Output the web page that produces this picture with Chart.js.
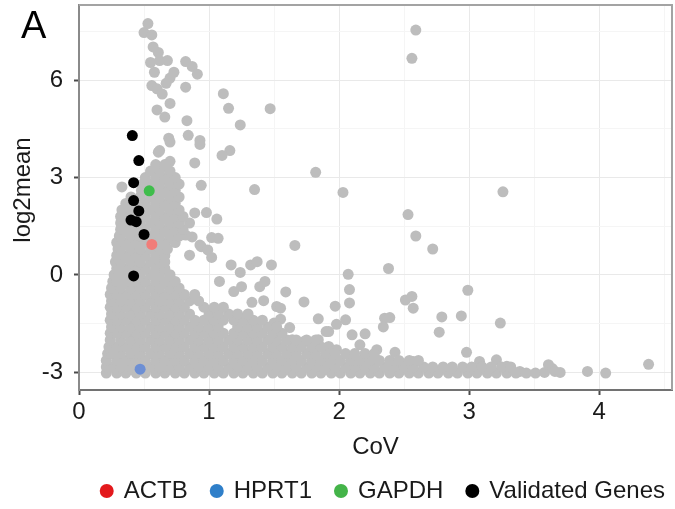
<!DOCTYPE html>
<html>
<head>
<meta charset="utf-8">
<script src="https://cdn.jsdelivr.net/npm/chart.js@4.4.1/dist/chart.umd.min.js"></script>
<style>
  html, body { margin: 0; padding: 0; background: #fff; }
</style>
</head>
<body>
<canvas id="covChart" width="675" height="509"></canvas>
<script>
  /* axis ticks */
  var covMajor = [0, 1, 2, 3, 4];
  var covMinor = [0.5, 1.5, 2.5, 3.5, 4.5];
  var meanMajor = [-3, 0, 3, 6];
  var meanMinor = [-1.5, 1.5, 4.5, 7.5];

  /* reference genes + validated set, [CoV, log2mean] */
  var actb = [[0.56, 0.94]];
  var hprt1 = [[0.47, -2.90]];
  var gapdh = [[0.54, 2.59]];
  var validated = [[0.41, 4.29], [0.46, 3.52], [0.42, 2.84], [0.42, 2.29], [0.46, 1.97],
    [0.40, 1.69], [0.44, 1.64], [0.50, 1.25], [0.42, -0.03]];

  var legendLabels = ['ACTB', 'HPRT1', 'GAPDH', 'Validated Genes'];
  var legendColors = ['#e3191c', '#2f7fc9', '#44b449', '#000000'];

  /* dense bulk of genes, one row per log2mean level: [log2mean, [CoV...]] */
  var cloudRows = [
    [-3.02, [0.21,0.29,0.36,0.44,0.51,0.59,0.66,0.74,0.81,0.89,0.96,1.04,1.11,1.19,1.26,1.34,1.41,1.49,1.56,1.64,1.71,1.79,1.86,1.94,2.01,2.09,2.16,2.24,2.31,2.39,2.46,2.54,2.61,2.69,2.76,2.84,2.91,2.99,3.06,3.14,3.21,3.29,3.36,3.44]],
    [-2.83, [0.21,0.25,0.32,0.40,0.47,0.55,0.62,0.70,0.77,0.85,0.92,1.00,1.07,1.15,1.22,1.30,1.37,1.45,1.52,1.60,1.67,1.75,1.82,1.90,1.97,2.05,2.12,2.20,2.27,2.35,2.42,2.50,2.57,2.65,2.72,2.80,2.87,2.95,3.02,3.10,3.17,3.25,3.32]],
    [-2.63, [0.21,0.29,0.36,0.44,0.51,0.59,0.66,0.74,0.81,0.89,0.96,1.04,1.11,1.19,1.26,1.34,1.41,1.49,1.56,1.64,1.71,1.79,1.86,1.94,2.01,2.09,2.16,2.24,2.31,2.39,2.46,2.54,2.61]],
    [-2.42, [0.22,0.25,0.32,0.40,0.47,0.55,0.62,0.70,0.77,0.85,0.92,1.00,1.07,1.15,1.22,1.30,1.37,1.45,1.52,1.60,1.67,1.75,1.82,1.90,1.97,2.05,2.12,2.20,2.27]],
    [-2.21, [0.23,0.29,0.36,0.44,0.51,0.59,0.66,0.74,0.81,0.89,0.96,1.04,1.11,1.19,1.26,1.34,1.41,1.49,1.56,1.64,1.71,1.79,1.86]],
    [-2.00, [0.24,0.32,0.40,0.47,0.55,0.62,0.70,0.77,0.85,0.92,1.00,1.07,1.15,1.22,1.30,1.37,1.45,1.52,1.60,1.67,1.75,1.82]],
    [-1.79, [0.24,0.29,0.36,0.44,0.51,0.59,0.66,0.74,0.81,0.89,0.96,1.04,1.11,1.19,1.26,1.34,1.41,1.49,1.56]],
    [-1.60, [0.25,0.32,0.40,0.47,0.55,0.62,0.70,0.77,0.85,0.92,1.00,1.07,1.22,1.30,1.37,1.45,1.52]],
    [-1.39, [0.24,0.29,0.36,0.44,0.51,0.59,0.66,0.74,0.81,0.89,0.96,1.04,1.11,1.19,1.26,1.34,1.41]],
    [-1.20, [0.25,0.32,0.40,0.47,0.55,0.62,0.70,0.77,0.85,1.00,1.07,1.15,1.22,1.30]],
    [-0.99, [0.24,0.29,0.36,0.44,0.51,0.59,0.66,0.74,0.81,0.96,1.04,1.11]],
    [-0.80, [0.25,0.32,0.40,0.47,0.55,0.62,0.70,0.77,0.85,0.92]],
    [-0.60, [0.24,0.29,0.36,0.44,0.51,0.59,0.66,0.74,0.81,0.89]],
    [-0.40, [0.25,0.32,0.40,0.47,0.55,0.62,0.70,0.77]],
    [-0.20, [0.26,0.29,0.36,0.44,0.51,0.59,0.66,0.74]],
    [0.01, [0.27,0.32,0.40,0.47,0.55,0.62,0.70]],
    [0.20, [0.29,0.36,0.44,0.51,0.59,0.66]],
    [0.40, [0.28,0.32,0.40,0.47,0.55,0.62,0.66]],
    [0.60, [0.29,0.36,0.44,0.51,0.59,0.66]],
    [0.80, [0.30,0.32,0.40,0.47,0.55,0.62,0.68]],
    [1.00, [0.29,0.36,0.44,0.51,0.59,0.66,0.74]],
    [1.20, [0.31,0.32,0.40,0.47,0.55,0.62,0.70,0.77]],
    [1.40, [0.32,0.36,0.44,0.51,0.59,0.66,0.74,0.80]],
    [1.60, [0.32,0.40,0.47,0.55,0.62,0.70,0.77,0.85]],
    [1.80, [0.32,0.36,0.44,0.51,0.59,0.66,0.74,0.80]],
    [2.00, [0.33,0.40,0.47,0.55,0.62,0.70,0.77]],
    [2.20, [0.36,0.44,0.51,0.59,0.66,0.74]],
    [2.40, [0.40,0.47,0.55,0.62,0.70,0.77]],
    [2.60, [0.48,0.51,0.59,0.66,0.74]],
    [2.80, [0.49,0.55,0.62,0.70,0.77]],
    [3.00, [0.51,0.59,0.66,0.74]],
    [3.20, [0.55,0.62,0.70]],
    [3.40, [0.59,0.66]]
  ];

  /* scattered genes outside the bulk, [CoV, log2mean] */
  var sparseGenes = [
    [0.53,7.74],[0.50,7.46],[0.56,7.39],[0.57,7.02],[0.61,6.85],[0.55,6.54],[0.62,6.60],[0.68,6.60],
    [0.58,6.24],[0.82,6.57],[0.87,6.42],[0.91,6.18],[0.73,6.24],[0.70,6.06],[0.67,5.90],[0.56,5.83],
    [0.60,5.73],[0.64,5.57],[0.82,5.78],[0.70,5.28],[0.60,5.08],[0.66,4.86],[0.83,4.75],[0.84,4.30],
    [1.11,5.58],[1.15,5.13],[1.24,4.62],[0.69,4.21],[0.93,4.14],[1.47,5.12],[1.16,3.83],[1.10,3.68],
    [0.93,4.02],[0.70,4.09],[0.61,3.78],[0.62,3.83],[0.70,3.50],[0.89,3.45],[1.82,3.16],[1.35,2.63],
    [0.94,2.76],[0.33,2.71],[1.66,0.91],[2.03,2.54],[2.59,7.54],[2.56,6.67],[3.26,2.56],[2.53,1.86],
    [2.59,1.20],[2.72,0.80],
    [0.89,1.91],[0.98,1.92],[1.06,1.72],[1.02,1.15],[1.07,1.13],[0.87,1.17],[0.94,0.87],[1.02,0.54],
    [0.82,1.23],[0.93,0.92],[0.99,0.77],[0.85,0.61],[1.17,0.31],[1.24,0.08],[1.32,0.31],[1.37,0.41],
    [1.48,0.31],[1.08,-0.20],[1.19,-0.51],[1.25,-0.36],[1.39,-0.36],[1.43,-0.20],[1.59,-0.52],
    [1.73,-0.83],[1.97,-0.96],[1.33,-0.84],[1.42,-0.79],[1.52,-0.97],[1.55,-1.02],[1.55,-1.36],
    [1.84,-1.35],[1.92,-1.74],[1.98,-1.52],[2.07,0.02],[2.08,-0.45],[2.08,-0.86],[2.38,0.20],
    [2.51,-0.77],[2.56,-0.66],[2.57,-1.02],[2.99,-0.47],[2.79,-1.29],[2.94,-1.26],[2.77,-1.76],
    [2.35,-1.33],[2.39,-1.31],[2.34,-1.60],[2.20,-1.81],[2.05,-1.38],[2.10,-1.84],[1.90,-1.74],
    [2.16,-2.15],[2.29,-2.30],[2.43,-2.38],[2.98,-2.38],[2.57,-2.66],[1.84,-1.99],[1.92,-2.20],
    [1.98,-2.30],[1.73,-2.05],[1.64,-1.99],[1.62,-1.62],[1.50,-1.48],
    [3.08,-2.66],[3.21,-2.61],[3.24,-1.48],[3.29,-2.81],[3.39,-2.97],[3.51,-3.02],[3.58,-3.00],
    [3.61,-2.76],[3.64,-2.88],[3.66,-2.97],[3.70,-3.00],[3.91,-2.97],[4.05,-3.02],[4.38,-2.75]
  ];

  function toPoints(pairs) {
    return pairs.map(function(p) { return { x: p[0], y: p[1] }; });
  }

  var grayPoints = toPoints(sparseGenes);
  cloudRows.forEach(function(row) {
    row[1].forEach(function(x) { grayPoints.push({ x: x, y: row[0] }); });
  });

  var fontFamily = "'Liberation Sans', Arial, Helvetica, sans-serif";

  function dots(data, color, order) {
    return {
      data: data,
      backgroundColor: color,
      borderWidth: 0,
      pointRadius: 5.5,
      pointHoverRadius: 5.5,
      order: order
    };
  }

  /* panel frame, axis titles, panel letter and legend */
  var decorPlugin = {
    id: 'decor',
    afterDraw: function(chart) {
      var ctx = chart.ctx;
      var a = chart.chartArea;
      ctx.save();

      ctx.strokeStyle = '#a3a3a3';
      ctx.lineWidth = 2;
      ctx.beginPath();
      ctx.moveTo(a.left, a.top);
      ctx.lineTo(a.right, a.top);
      ctx.lineTo(a.right, a.bottom);
      ctx.stroke();

      ctx.fillStyle = '#1a1a1a';
      ctx.font = '24px ' + fontFamily;
      ctx.textAlign = 'center';
      ctx.textBaseline = 'middle';
      ctx.fillText('CoV', (a.left + a.right) / 2, 447);

      ctx.save();
      ctx.translate(23, 190);
      ctx.rotate(-Math.PI / 2);
      ctx.fillText('log2mean', 0, 0);
      ctx.restore();

      ctx.font = '38px ' + fontFamily;
      ctx.textAlign = 'left';
      ctx.textBaseline = 'alphabetic';
      ctx.fillStyle = '#000';
      ctx.fillText('A', 21, 38);

      /* legend row */
      ctx.font = '24px ' + fontFamily;
      ctx.textBaseline = 'middle';
      var r = 7, gapText = 10, gapItem = 22, y = 491;
      var total = 0;
      legendLabels.forEach(function(lbl, i) {
        total += 2 * r + gapText + ctx.measureText(lbl).width + (i ? gapItem : 0);
      });
      var x = 665 - total;
      legendLabels.forEach(function(lbl, i) {
        if (i) x += gapItem;
        ctx.fillStyle = legendColors[i];
        ctx.beginPath();
        ctx.arc(x + r, y, r, 0, Math.PI * 2);
        ctx.fill();
        x += 2 * r + gapText;
        ctx.fillStyle = '#1a1a1a';
        ctx.fillText(lbl, x, y);
        x += ctx.measureText(lbl).width;
      });

      ctx.restore();
    }
  };

  function isIn(list, v) { return list.indexOf(v) >= 0; }

  new Chart(document.getElementById('covChart'), {
    type: 'scatter',
    data: {
      datasets: [
        dots(toPoints(validated), '#000000', 1),
        dots(toPoints(gapdh), '#3fbd4b', 2),
        dots(toPoints(hprt1), '#6d8fd4', 3),
        dots(toPoints(actb), '#f17d79', 4),
        dots(grayPoints, '#bdbdbd', 10)
      ]
    },
    options: {
      responsive: false,
      devicePixelRatio: 1,
      animation: false,
      events: [],
      layout: { autoPadding: false, padding: { top: 5, right: 3, left: 0, bottom: 0 } },
      plugins: { legend: { display: false }, tooltip: { enabled: false } },
      scales: {
        x: {
          type: 'linear',
          min: 0,
          max: 4.56,
          afterFit: function(s) {
            s.height = 119;
            s.paddingLeft = 0;
            s.paddingRight = 0;
          },
          afterBuildTicks: function(s) {
            s.ticks = covMajor.concat(covMinor).sort(function(p, q) { return p - q; })
              .map(function(v) { return { value: v }; });
          },
          border: { display: true, color: '#727272', width: 2 },
          grid: {
            color: function(c) { return c.tick && isIn(covMajor, c.tick.value) ? '#e9e9e9' : '#f5f5f5'; },
            tickColor: function(c) { return c.tick && isIn(covMajor, c.tick.value) ? '#4a4a4a' : 'rgba(0,0,0,0)'; },
            tickLength: 5,
            tickWidth: 2
          },
          ticks: {
            padding: 3,
            color: '#1a1a1a',
            font: { family: fontFamily, size: 24 },
            maxRotation: 0,
            autoSkip: false,
            callback: function(v) { return isIn(covMajor, v) ? String(v) : ''; }
          }
        },
        y: {
          type: 'linear',
          min: -3.54,
          max: 8.31,
          afterFit: function(s) {
            s.width = 79;
            s.paddingTop = 0;
            s.paddingBottom = 0;
          },
          afterBuildTicks: function(s) {
            s.ticks = meanMajor.concat(meanMinor).sort(function(p, q) { return p - q; })
              .map(function(v) { return { value: v }; });
          },
          border: { display: true, color: '#8a8a8a', width: 2 },
          grid: {
            color: function(c) { return c.tick && isIn(meanMajor, c.tick.value) ? '#e9e9e9' : '#f5f5f5'; },
            tickColor: function(c) { return c.tick && isIn(meanMajor, c.tick.value) ? '#4a4a4a' : 'rgba(0,0,0,0)'; },
            tickLength: 5,
            tickWidth: 2
          },
          ticks: {
            padding: 11,
            color: '#1a1a1a',
            font: { family: fontFamily, size: 24 },
            autoSkip: false,
            callback: function(v) { return isIn(meanMajor, v) ? String(v) : ''; }
          }
        }
      }
    },
    plugins: [decorPlugin]
  });
</script>
</body>
</html>
